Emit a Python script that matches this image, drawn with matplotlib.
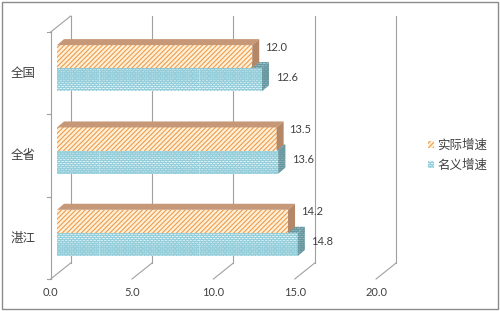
"""
Pseudo-3D horizontal bar chart: real vs. nominal growth (全国 / 全省 / 湛江).
Excel-style box with a back wall, bars with top and side faces.
"""

import matplotlib
matplotlib.use("Agg")
import matplotlib.hatch as mhatch
import matplotlib.pyplot as plt
from matplotlib.patches import Polygon, Rectangle
from matplotlib.path import Path
from matplotlib.transforms import IdentityTransform, offset_copy

# --- data (bottom to top) ---
categories = ["湛江", "全省", "全国"]
real_growth = [14.2, 13.5, 12.0]
nominal_growth = [14.8, 13.6, 12.6]
series_names = ["实际增速", "名义增速"]
x_ticks = [0, 5, 10, 15, 20]

# --- colours ---
TEXT = "#404040"
GRID = "#A0A0A0"
ORANGE_FACE, ORANGE_HATCH = "#FFF0D8", "#EE9C4E"
ORANGE_TOP, ORANGE_SIDE = "#C69878", "#B58766"
TEAL_FACE, TEAL_HATCH = "#E4F5F8", "#95CEDB"
TEAL_TOP, TEAL_SIDE, TEAL_DARK = "#A9CDD3", "#8DB3B9", "#6A98A0"

# pixel offsets (dpi 100): whole box depth, bar front offset, bar depth
DEPTH = (20, 16)
BAR_OFF = (6.3, 5)
BAR_DEPTH = (7, 6)
BAR_H = 0.28
STRIPES = "/" * 7
BRICKS = "*" * 8


class BrickHatch(mhatch.HatchPatternBase):
    """Brick pattern, bound to the '*' hatch character (replaces stars)."""

    def __init__(self, hatch, density):
        self.num_rows = int(hatch.count("*") * density)
        self.num_bricks = max(1, int(self.num_rows * 0.6))
        self.num_vertices = self.num_rows * (2 + 2 * self.num_bricks)

    def set_vertices_and_codes(self, vertices, codes):
        h = 1.0 / self.num_rows
        i = 0
        for r in range(self.num_rows):
            y0 = r * h
            vertices[i], vertices[i + 1] = (0, y0), (1, y0)
            codes[i], codes[i + 1] = Path.MOVETO, Path.LINETO
            i += 2
            shift = 0.5 if r % 2 else 0.0
            for k in range(self.num_bricks):
                x = (k + shift) / self.num_bricks
                vertices[i], vertices[i + 1] = (x, y0), (x, y0 + h)
                codes[i], codes[i + 1] = Path.MOVETO, Path.LINETO
                i += 2


mhatch._hatch_types = [BrickHatch if t is mhatch.Stars else t
                       for t in mhatch._hatch_types]

plt.rcParams["font.family"] = ["Noto Sans CJK SC", "DejaVu Sans"]
plt.rcParams["hatch.linewidth"] = 0.8
NUM_FONT = ["Lato", "DejaVu Sans"]

fig = plt.figure(figsize=(5.0, 3.11), dpi=100)
ax = fig.add_axes([0.1014, 0.1029, 0.6508, 0.7942])
n = len(categories)
ax.set_xlim(0, 20)
ax.set_ylim(0, n)
ax.axis("off")

# outer chart border
fig.patches.append(Rectangle((0.003, 0.007), 0.993, 0.988, transform=fig.transFigure,
                             fill=False, edgecolor="#8C8C8C", lw=1.0))

ident = IdentityTransform()


def px(x, y, off=(0, 0)):
    X, Y = ax.transData.transform((x, y))
    return X + off[0], Y + off[1]


def seg(p, q, **kw):
    ax.plot([p[0], q[0]], [p[1], q[1]], transform=ident, clip_on=False, **kw)


# --- box: back wall gridlines, floor diagonals, left axis ---
back = offset_copy(ax.transData, fig=fig, x=DEPTH[0], y=DEPTH[1], units="dots")
for t in x_ticks:
    ax.plot([t, t], [0, n], color=GRID, lw=0.8, transform=back, clip_on=False, zorder=1)
    seg(px(t, 0), px(t, 0, DEPTH), color=GRID, lw=0.8, zorder=1)
    ax.annotate(f"{t:.1f}", xy=(t, 0), xytext=(0, -10), textcoords="offset points",
                ha="center", va="center", fontsize=8, color=TEXT, family=NUM_FONT)

ax.plot([0, 0], [0, n], color=GRID, lw=0.8, clip_on=False, zorder=1)
seg(px(0, n), px(0, n, DEPTH), color=GRID, lw=0.8, zorder=1)
for j in range(n + 1):
    seg(px(0, j, (-4, 0)), px(0, j), color=GRID, lw=0.8, zorder=1)

# --- bars ---
centers = [i + 0.5 for i in range(n)]
front = offset_copy(ax.transData, fig=fig, x=BAR_OFF[0], y=BAR_OFF[1], units="dots")

teal = ax.barh([c - BAR_H / 2 for c in centers], nominal_growth, height=BAR_H,
               color=TEAL_FACE, edgecolor=TEAL_HATCH, lw=0, hatch=BRICKS,
               label=series_names[1], zorder=2)
orange = ax.barh([c + BAR_H / 2 for c in centers], real_growth, height=BAR_H,
                 color=ORANGE_FACE, edgecolor=ORANGE_HATCH, lw=0, hatch=STRIPES,
                 label=series_names[0], zorder=3)


def add_faces(v, y0, y1, top_kw, side_kw, z):
    bo = BAR_OFF
    bd = (BAR_OFF[0] + BAR_DEPTH[0], BAR_OFF[1] + BAR_DEPTH[1])
    a, b, c = px(0, y1, bo), px(v, y1, bo), px(v, y0, bo)
    a2, b2, c2 = px(0, y1, bd), px(v, y1, bd), px(v, y0, bd)
    ax.add_patch(Polygon([a, b, b2, a2], closed=True, transform=ident,
                         clip_on=False, lw=0, zorder=z, **top_kw))
    ax.add_patch(Polygon([b, c, c2, b2], closed=True, transform=ident,
                         clip_on=False, lw=0, zorder=z, **side_kw))


for c, v_real, v_nom, r_t, r_o in zip(centers, real_growth, nominal_growth,
                                      teal.patches, orange.patches):
    r_t.set_transform(front)
    r_o.set_transform(front)
    r_t.set_clip_on(False)
    r_o.set_clip_on(False)
    add_faces(v_nom, c - BAR_H, c,
              dict(facecolor=TEAL_TOP, edgecolor=TEAL_DARK, hatch=BRICKS),
              dict(facecolor=TEAL_SIDE, edgecolor=TEAL_DARK, hatch=BRICKS), 2.5)
    add_faces(v_real, c, c + BAR_H,
              dict(facecolor=ORANGE_TOP), dict(facecolor=ORANGE_SIDE), 3.5)

    # data labels
    ax.annotate(f"{v_real:.1f}", xy=(v_real, c + BAR_H), xytext=(13.7, 2.2),
                textcoords="offset points", ha="left", va="center",
                fontsize=8, color=TEXT, family=NUM_FONT)
    ax.annotate(f"{v_nom:.1f}", xy=(v_nom, c - BAR_H / 2), xytext=(14.4, 5.4),
                textcoords="offset points", ha="left", va="center",
                fontsize=8, color=TEXT, family=NUM_FONT)

# category labels
for c, name in zip(centers, categories):
    ax.annotate(name, xy=(0, c), xytext=(-10.6, 0), textcoords="offset points",
                ha="right", va="center", fontsize=9, color=TEXT)

fig.legend(handles=[orange, teal], loc="center left", bbox_to_anchor=(0.855, 0.5),
           frameon=False, handlelength=0.5, handleheight=0.5, handletextpad=0.3,
           labelspacing=0.6, fontsize=9, borderpad=0, borderaxespad=0,
           labelcolor=TEXT)

fig.savefig("out.png", dpi=100)
